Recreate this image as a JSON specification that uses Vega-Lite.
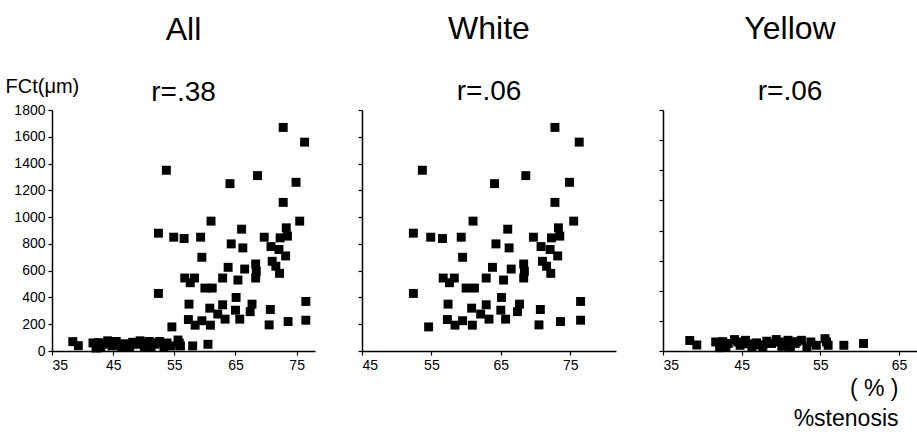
{
  "$schema": "https://vega.github.io/schema/vega-lite/v6.json",
  "padding": {"left": 5, "top": 13, "right": 0, "bottom": 0},
  "background": "white",
  "bounds": "flush",
  "spacing": 47,
  "config": {
    "view": {"stroke": null},
    "font": "Liberation Sans",
    "axis": {"grid": false, "domainColor": "black", "domainWidth": 1.5, "tickColor": "black", "tickWidth": 1.2, "tickSize": 4, "labelColor": "black", "labelFont": "Liberation Sans", "labelFontSize": 14, "titleColor": "black", "format": "d"},
    "title": {"font": "Liberation Sans", "fontSize": 32, "fontWeight": "normal", "color": "black", "subtitleFont": "Liberation Sans", "subtitleFontSize": 28, "subtitleColor": "black", "anchor": "middle", "frame": "group", "subtitlePadding": 32, "offset": 2}
  },
  "datasets": {
    "pts": [
      {"g": "White", "s": 72.8, "f": 1670}, {"g": "White", "s": 76.3, "f": 1560}, {"g": "White", "s": 53.7, "f": 1350}, {"g": "White", "s": 68.6, "f": 1310},
      {"g": "White", "s": 64.1, "f": 1250}, {"g": "White", "s": 74.9, "f": 1260}, {"g": "White", "s": 72.8, "f": 1110}, {"g": "White", "s": 61.0, "f": 970},
      {"g": "White", "s": 75.5, "f": 970}, {"g": "White", "s": 52.4, "f": 880}, {"g": "White", "s": 54.9, "f": 850}, {"g": "White", "s": 56.6, "f": 840},
      {"g": "White", "s": 59.3, "f": 850}, {"g": "White", "s": 66.0, "f": 910}, {"g": "White", "s": 64.3, "f": 800}, {"g": "White", "s": 66.2, "f": 770},
      {"g": "White", "s": 69.7, "f": 850}, {"g": "White", "s": 70.8, "f": 780}, {"g": "White", "s": 72.3, "f": 845}, {"g": "White", "s": 73.3, "f": 920},
      {"g": "White", "s": 73.5, "f": 858}, {"g": "White", "s": 72.1, "f": 758}, {"g": "White", "s": 73.2, "f": 710}, {"g": "White", "s": 71.0, "f": 670},
      {"g": "White", "s": 71.6, "f": 633}, {"g": "White", "s": 72.2, "f": 580}, {"g": "White", "s": 59.5, "f": 700}, {"g": "White", "s": 63.8, "f": 625},
      {"g": "White", "s": 66.5, "f": 612}, {"g": "White", "s": 68.3, "f": 650}, {"g": "White", "s": 68.4, "f": 595}, {"g": "White", "s": 68.3, "f": 545},
      {"g": "White", "s": 62.9, "f": 545}, {"g": "White", "s": 65.4, "f": 530}, {"g": "White", "s": 56.7, "f": 545}, {"g": "White", "s": 58.3, "f": 545},
      {"g": "White", "s": 57.6, "f": 510}, {"g": "White", "s": 60.0, "f": 470}, {"g": "White", "s": 61.2, "f": 470}, {"g": "White", "s": 52.4, "f": 430},
      {"g": "White", "s": 65.1, "f": 400}, {"g": "White", "s": 57.4, "f": 350}, {"g": "White", "s": 60.8, "f": 320}, {"g": "White", "s": 62.9, "f": 345},
      {"g": "White", "s": 62.1, "f": 276}, {"g": "White", "s": 63.3, "f": 238}, {"g": "White", "s": 65.0, "f": 305}, {"g": "White", "s": 65.7, "f": 238},
      {"g": "White", "s": 67.7, "f": 350}, {"g": "White", "s": 67.4, "f": 294}, {"g": "White", "s": 70.7, "f": 310}, {"g": "White", "s": 70.5, "f": 195},
      {"g": "White", "s": 73.6, "f": 220}, {"g": "White", "s": 76.5, "f": 370}, {"g": "White", "s": 76.5, "f": 230}, {"g": "White", "s": 54.6, "f": 180},
      {"g": "White", "s": 57.3, "f": 235}, {"g": "White", "s": 58.4, "f": 193}, {"g": "White", "s": 59.5, "f": 226}, {"g": "White", "s": 60.9, "f": 193},
      {"g": "Yellow", "s": 38.4, "f": 70}, {"g": "Yellow", "s": 39.3, "f": 40}, {"g": "Yellow", "s": 41.7, "f": 60}, {"g": "Yellow", "s": 42.2, "f": 22},
      {"g": "Yellow", "s": 43.3, "f": 50}, {"g": "Yellow", "s": 44.1, "f": 76}, {"g": "Yellow", "s": 44.8, "f": 38}, {"g": "Yellow", "s": 45.5, "f": 71},
      {"g": "Yellow", "s": 46.3, "f": 27}, {"g": "Yellow", "s": 46.9, "f": 54}, {"g": "Yellow", "s": 47.7, "f": 27}, {"g": "Yellow", "s": 48.8, "f": 50},
      {"g": "Yellow", "s": 49.4, "f": 76}, {"g": "Yellow", "s": 50.1, "f": 31}, {"g": "Yellow", "s": 50.9, "f": 71}, {"g": "Yellow", "s": 51.8, "f": 50},
      {"g": "Yellow", "s": 52.6, "f": 71}, {"g": "Yellow", "s": 53.3, "f": 27}, {"g": "Yellow", "s": 54.5, "f": 38}, {"g": "Yellow", "s": 55.6, "f": 82},
      {"g": "Yellow", "s": 56.0, "f": 38}, {"g": "Yellow", "s": 58.0, "f": 38}, {"g": "Yellow", "s": 60.5, "f": 50}, {"g": "Yellow", "s": 43.0, "f": 25},
      {"g": "Yellow", "s": 44.5, "f": 60}, {"g": "Yellow", "s": 45.8, "f": 48}, {"g": "Yellow", "s": 47.2, "f": 40}, {"g": "Yellow", "s": 49.8, "f": 60},
      {"g": "Yellow", "s": 51.2, "f": 30}, {"g": "Yellow", "s": 52.0, "f": 62}, {"g": "Yellow", "s": 53.8, "f": 60}, {"g": "Yellow", "s": 55.8, "f": 60},
      {"g": "Yellow", "s": 42.6, "f": 62}, {"g": "Yellow", "s": 48.2, "f": 65}
    ]
  },
  "hconcat": [
    {
      "title": {"text": "All", "subtitle": "r=.38", "dy": 34},
      "width": 263,
      "height": 241,
      "data": {"name": "pts"},
      "mark": {"type": "point", "shape": "square", "filled": true, "size": 80, "color": "black", "opacity": 1},
      "encoding": {
        "x": {"field": "s", "type": "quantitative", "scale": {"domain": [35, 78], "nice": false, "zero": false}, "axis": {"values": [35, 45, 55, 65, 75], "title": null, "labelPadding": 3}},
        "y": {"field": "f", "type": "quantitative", "scale": {"domain": [0, 1800], "nice": false}, "axis": {"values": [0, 200, 400, 600, 800, 1000, 1200, 1400, 1600, 1800], "title": "FCt(μm)", "titleAngle": 0, "titleAlign": "left", "titleBaseline": "alphabetic", "titleX": -47, "titleY": -18, "titleFontSize": 20, "titleFontWeight": "normal", "labelPadding": 3}}
      }
    },
    {
      "title": {"text": "White", "subtitle": "r=.06"},
      "width": 254,
      "height": 241,
      "data": {"name": "pts"},
      "transform": [{"filter": "datum.g === 'White'"}],
      "mark": {"type": "point", "shape": "square", "filled": true, "size": 80, "color": "black", "opacity": 1},
      "encoding": {
        "x": {"field": "s", "type": "quantitative", "scale": {"domain": [45, 81.6], "nice": false, "zero": false}, "axis": {"values": [45, 55, 65, 75], "title": null, "labelPadding": 3}},
        "y": {"field": "f", "type": "quantitative", "scale": {"domain": [0, 1800], "nice": false}, "axis": {"values": [0, 200, 400, 600, 800, 1000, 1200, 1400, 1600, 1800], "title": null, "labels": false}}
      }
    },
    {
      "title": {"text": "Yellow", "subtitle": "r=.06"},
      "width": 254,
      "height": 241,
      "data": {"name": "pts"},
      "transform": [{"filter": "datum.g === 'Yellow'"}],
      "mark": {"type": "point", "shape": "square", "filled": true, "size": 80, "color": "black", "opacity": 1},
      "encoding": {
        "x": {"field": "s", "type": "quantitative", "scale": {"domain": [35, 67.3], "nice": false, "zero": false}, "axis": {"values": [35, 45, 55, 65], "title": ["( % )", "%stenosis"], "titleAlign": "right", "titleAnchor": null, "titleX": 235, "titleY": 44, "titleBaseline": "alphabetic", "titleFontSize": 23, "titleFontWeight": "normal", "titleLineHeight": 30, "labelPadding": 3}},
        "y": {"field": "f", "type": "quantitative", "scale": {"domain": [0, 1600], "nice": false}, "axis": {"values": [0, 200, 400, 600, 800, 1000, 1200, 1400, 1600], "title": null, "labels": false}}
      }
    }
  ]
}
